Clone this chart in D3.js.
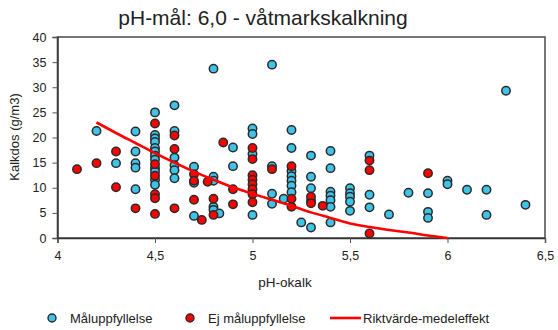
<!DOCTYPE html>
<html>
<head>
<meta charset="utf-8">
<script src="https://cdn.jsdelivr.net/npm/d3@7"></script>
<style>
  html, body { margin: 0; padding: 0; background: #fff; }
  svg { display: block; font-family: "Liberation Sans", Arial, sans-serif; }
</style>
</head>
<body>
<svg id="chart" width="558" height="330"></svg>
<script>
// Sites meeting the pH target: [pH-okalk, Kalkdos g/m3]
const maluppfyllelse = [
  [4.2, 21.3], [4.3, 14.9],
  [4.4, 21.2], [4.4, 17.2], [4.4, 14.9], [4.4, 14.0], [4.4, 9.7],
  [4.5, 25.0], [4.5, 20.5], [4.5, 19.8], [4.5, 19.1], [4.5, 17.9], [4.5, 17.2],
  [4.5, 16.4], [4.5, 15.6], [4.5, 13.9], [4.5, 13.2], [4.5, 11.6], [4.5, 10.6],
  [4.6, 26.4], [4.6, 21.3], [4.6, 16.0], [4.6, 14.5], [4.6, 13.5], [4.6, 11.9],
  [4.7, 14.2], [4.7, 11.0], [4.7, 4.4],
  [4.8, 33.7], [4.8, 12.2], [4.8, 11.4], [4.8, 6.2], [4.8, 5.6], [4.83, 4.9],
  [4.9, 18.0], [4.9, 14.3],
  [5.0, 21.8], [5.0, 20.7], [5.0, 16.7], [5.0, 4.6],
  [5.1, 34.5], [5.1, 14.3], [5.1, 8.8], [5.1, 6.8], [5.16, 7.8],
  [5.2, 21.5], [5.2, 17.9], [5.2, 13.3], [5.2, 12.3], [5.2, 11.4], [5.2, 10.4], [5.2, 9.1],
  [5.25, 3.1],
  [5.3, 16.4], [5.3, 12.2], [5.3, 9.9], [5.3, 7.4], [5.3, 2.1],
  [5.4, 17.3], [5.4, 13.9], [5.4, 9.2], [5.4, 8.4], [5.4, 7.5], [5.4, 6.2], [5.4, 3.1],
  [5.5, 9.9], [5.5, 8.9], [5.5, 8.2], [5.5, 7.2], [5.5, 5.4],
  [5.6, 16.4], [5.6, 8.6], [5.6, 6.1],
  [5.7, 4.7], [5.8, 9.0],
  [5.9, 8.9], [5.9, 5.2], [5.9, 4.0],
  [6.0, 11.4], [6.0, 10.7], [6.1, 9.6], [6.2, 9.6], [6.2, 4.6],
  [6.3, 29.3], [6.4, 6.6]
];

// Sites not meeting the pH target
const ejMaluppfyllelse = [
  [4.1, 13.7], [4.2, 14.9], [4.3, 17.2], [4.3, 10.1], [4.4, 5.9],
  [4.5, 22.8], [4.5, 14.7], [4.5, 12.4], [4.5, 8.7], [4.5, 7.9], [4.5, 4.8],
  [4.6, 20.4], [4.6, 17.7], [4.6, 5.9],
  [4.7, 12.7], [4.7, 11.4], [4.7, 7.6], [4.74, 3.6], [4.77, 11.2],
  [4.8, 7.8], [4.8, 4.6], [4.85, 19.0],
  [4.9, 9.7], [4.9, 6.7],
  [5.0, 17.9], [5.0, 15.7], [5.0, 12.5], [5.0, 11.6], [5.0, 10.7], [5.0, 9.7], [5.0, 8.7], [5.0, 7.1],
  [5.1, 13.7],
  [5.2, 14.3], [5.2, 7.8], [5.2, 6.2],
  [5.3, 8.2], [5.3, 6.9], [5.36, 6.4],
  [5.6, 15.4], [5.6, 13.5], [5.6, 0.9],
  [5.9, 12.9]
];

// Guideline dose curve (mean effect)
const riktvarde = [
  [4.2, 23.0], [4.3, 20.9], [4.4, 18.9], [4.5, 16.9], [4.6, 15.0], [4.7, 13.2],
  [4.8, 11.6], [4.9, 10.1], [5.0, 8.8], [5.1, 7.6], [5.2, 6.4], [5.3, 5.1],
  [5.4, 4.0], [5.5, 2.9], [5.6, 2.2], [5.7, 1.6], [5.8, 1.1], [5.9, 0.5], [6.0, 0.0]
];

const xTicks = [4, 4.5, 5, 5.5, 6, 6.5];
const yTicks = [0, 5, 10, 15, 20, 25, 30, 35, 40];
const seriesNames = ["Måluppfyllelse", "Ej måluppfyllelse", "Riktvärde-medeleffekt"];

const cyan = "#3fc3e8";
const red = "#ff0000";
const commaFmt = v => String(v).replace(".", ",");

const svg = d3.select("#chart");
const plot = { left: 57.5, right: 545, top: 37, bottom: 238 };

const x = d3.scaleLinear().domain([4, 6.5]).range([plot.left, plot.right]);
const y = d3.scaleLinear().domain([0, 40]).range([plot.bottom, plot.top]);

// soft halo around markers
const defs = svg.append("defs");
const f = defs.append("filter").attr("id", "soft").attr("x", "-50%").attr("y", "-50%").attr("width", "200%").attr("height", "200%");
f.append("feGaussianBlur").attr("stdDeviation", 0.45);

// Title
svg.append("text")
  .attr("x", 263).attr("y", 25)
  .attr("text-anchor", "middle")
  .attr("font-size", 21)
  .attr("font-weight", 400)
  .attr("fill", "#222")
  .text("pH-mål: 6,0 - våtmarkskalkning");

// Frame
svg.append("rect")
  .attr("x", plot.left).attr("y", plot.top)
  .attr("width", plot.right - plot.left).attr("height", plot.bottom - plot.top)
  .attr("fill", "none").attr("stroke", "#555").attr("stroke-width", 1.6);

// Axes
const yAxis = svg.append("g")
  .attr("transform", `translate(${plot.left},0)`)
  .call(d3.axisLeft(y).tickValues(yTicks).tickSize(5).tickPadding(6).tickFormat(d => d));
const xAxis = svg.append("g")
  .attr("transform", `translate(0,${plot.bottom})`)
  .call(d3.axisBottom(x).tickValues(xTicks).tickSize(5).tickPadding(8).tickFormat(commaFmt));

[yAxis, xAxis].forEach(a => {
  a.select(".domain").attr("stroke", "#333").attr("stroke-width", 1.4);
  a.selectAll(".tick line").attr("stroke", "#555");
  a.selectAll("text").attr("font-size", 12.5).attr("fill", "#222")
    .attr("font-family", "'Liberation Sans', Arial, sans-serif");
});

// Axis titles
svg.append("text")
  .attr("x", 285).attr("y", 287)
  .attr("text-anchor", "middle").attr("font-size", 13.5).attr("fill", "#222")
  .text("pH-okalk");
svg.append("text")
  .attr("transform", "translate(19,137) rotate(-90)")
  .attr("text-anchor", "middle").attr("font-size", 13).attr("fill", "#222")
  .text("Kalkdos (g/m3)");

// Markers
const markers = svg.append("g").attr("filter", "url(#soft)");
function drawPoints(data, fill) {
  markers.append("g").selectAll("circle")
    .data(data).join("circle")
    .attr("cx", d => x(d[0])).attr("cy", d => y(d[1]))
    .attr("r", 4.2)
    .attr("fill", fill)
    .attr("stroke", "#2a2a2a").attr("stroke-width", 1.5);
}
drawPoints(maluppfyllelse, cyan);
drawPoints(ejMaluppfyllelse, red);

// Guideline curve
svg.append("path")
  .datum(riktvarde)
  .attr("fill", "none").attr("stroke", red).attr("stroke-width", 2.6)
  .attr("d", d3.line().x(d => x(d[0])).y(d => y(d[1])).curve(d3.curveMonotoneX));

// Legend
const lg = svg.append("g").attr("font-size", 13).attr("fill", "#222");
const ly = 318;
lg.append("circle").attr("cx", 52).attr("cy", ly).attr("r", 4).attr("fill", cyan).attr("stroke", "#2a2a2a").attr("stroke-width", 1.4);
lg.append("text").attr("x", 70).attr("y", ly + 4.5).text(seriesNames[0]);
lg.append("circle").attr("cx", 190).attr("cy", ly).attr("r", 4).attr("fill", red).attr("stroke", "#2a2a2a").attr("stroke-width", 1.4);
lg.append("text").attr("x", 208).attr("y", ly + 4.5).text(seriesNames[1]);
lg.append("line").attr("x1", 330).attr("x2", 361).attr("y1", ly).attr("y2", ly).attr("stroke", red).attr("stroke-width", 2.6);
lg.append("text").attr("x", 363).attr("y", ly + 4.5).text(seriesNames[2]);
</script>
</body>
</html>
